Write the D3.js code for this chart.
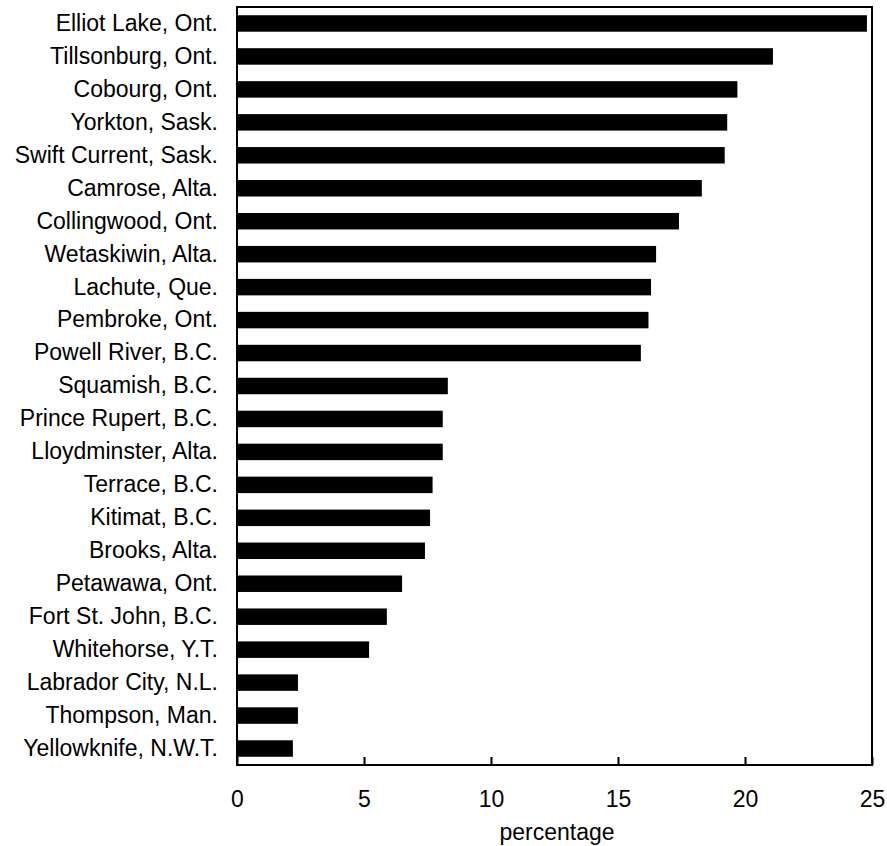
<!DOCTYPE html>
<html><head><meta charset="utf-8">
<script src="https://cdn.jsdelivr.net/npm/d3@7"></script>
<style>body{margin:0;background:#fff}</style>
</head><body>
<svg id="c" width="887" height="846"></svg>
<script>
const categories = ["Elliot Lake, Ont.","Tillsonburg, Ont.","Cobourg, Ont.","Yorkton, Sask.","Swift Current, Sask.","Camrose, Alta.","Collingwood, Ont.","Wetaskiwin, Alta.","Lachute, Que.","Pembroke, Ont.","Powell River, B.C.","Squamish, B.C.","Prince Rupert, B.C.","Lloydminster, Alta.","Terrace, B.C.","Kitimat, B.C.","Brooks, Alta.","Petawawa, Ont.","Fort St. John, B.C.","Whitehorse, Y.T.","Labrador City, N.L.","Thompson, Man.","Yellowknife, N.W.T."];
const values = [24.8,21.1,19.7,19.3,19.2,18.3,17.4,16.5,16.3,16.2,15.9,8.3,8.1,8.1,7.7,7.6,7.4,6.5,5.9,5.2,2.4,2.4,2.2];
const xTicks = [0,5,10,15,20,25];
const xTitle = "percentage";

const svg = d3.select("#c");
const L=237, R=872, T=7, B=765;
const font = "'Liberation Sans', Arial, sans-serif";
const fs = 23;
const x = d3.scaleLinear().domain([0,25]).range([L,R]);
const y = d3.scaleBand().domain(categories).range([T,B]).paddingInner(0.5).paddingOuter(0.25);

svg.append("g").selectAll("rect").data(categories).join("rect")
  .attr("x", x(0)).attr("y", d=>y(d)).attr("height", y.bandwidth())
  .attr("width", (d,i)=>x(values[i])-x(0)).attr("fill","#000");

svg.append("rect").attr("x",L).attr("y",T).attr("width",R-L).attr("height",B-T)
  .attr("fill","none").attr("stroke","#000").attr("stroke-width",2);

const xa = svg.append("g").attr("transform",`translate(0,${B})`)
  .call(d3.axisBottom(x).tickValues(xTicks).tickSizeInner(-8).tickSizeOuter(0).tickPadding(26));
xa.select(".domain").remove();
xa.selectAll("line").attr("stroke","#000").attr("stroke-width",2);
xa.selectAll("text").attr("font-family",font).attr("font-size",fs).attr("fill","#000");

const ya = svg.append("g").attr("transform",`translate(${L},0)`)
  .call(d3.axisLeft(y).tickSize(0).tickPadding(19));
ya.select(".domain").remove();
ya.selectAll("text").attr("font-family",font).attr("font-size",fs).attr("fill","#000");

svg.append("text").attr("x",557).attr("y",840).attr("text-anchor","middle")
  .attr("font-family",font).attr("font-size",fs).text(xTitle);
</script>
</body></html>
